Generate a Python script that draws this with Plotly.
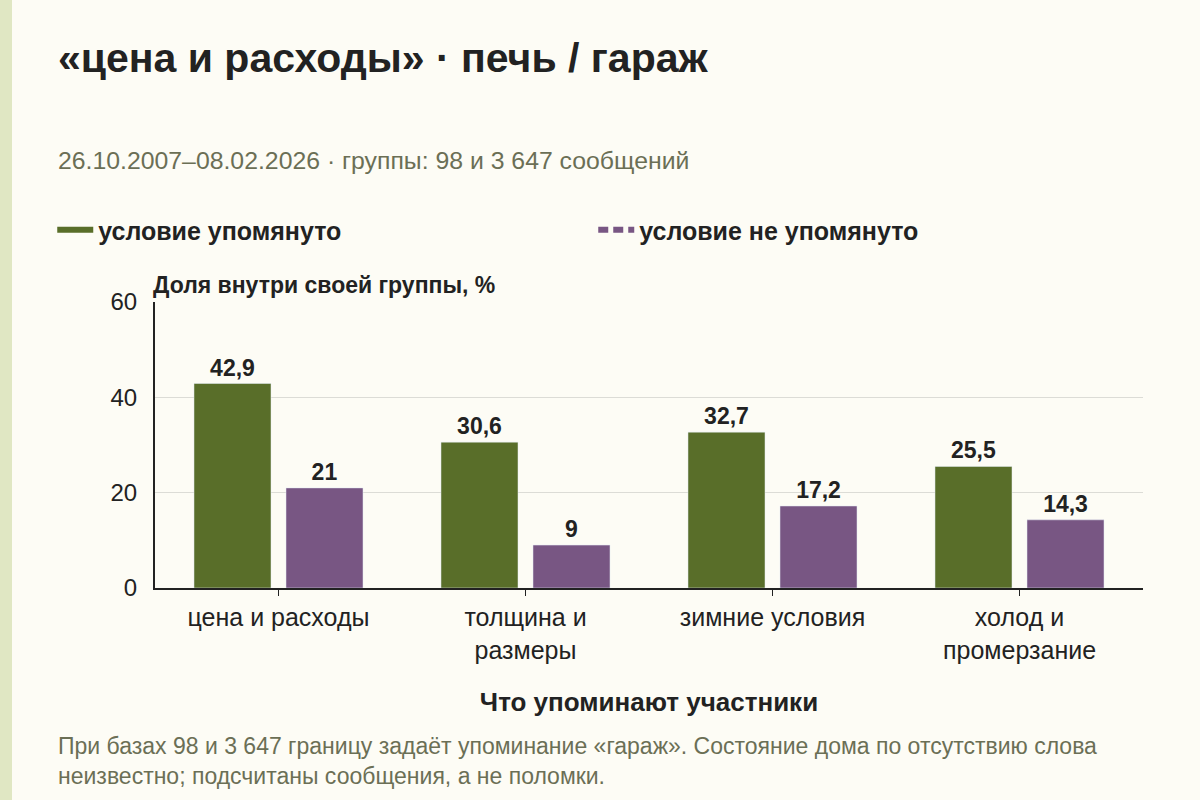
import plotly.graph_objects as go

# данные
categories = ["цена и расходы", "толщина и<br>размеры", "зимние условия", "холод и<br>промерзание"]
mentioned = [42.9, 30.6, 32.7, 25.5]
not_mentioned = [21, 9, 17.2, 14.3]
mentioned_labels = ["42,9", "30,6", "32,7", "25,5"]
not_mentioned_labels = ["21", "9", "17,2", "14,3"]
y_ticks = [0, 20, 40, 60]

GREEN = "#596e29"
PURPLE = "#785683"
BG = "#fdfcf5"
MUTED = "#6b6f55"
FONT = "Liberation Sans, Arial, sans-serif"

fig = go.Figure()

fig.add_trace(go.Bar(
    x=categories, y=mentioned, name="условие упомянуто",
    marker=dict(color=GREEN), text=mentioned_labels, textposition="outside",
    textfont=dict(size=23, color="#222", family=FONT, weight="bold"),
    cliponaxis=False, showlegend=False,
))
fig.add_trace(go.Bar(
    x=categories, y=not_mentioned, name="условие не упомянуто",
    marker=dict(color=PURPLE), text=not_mentioned_labels, textposition="outside",
    textfont=dict(size=23, color="#222", family=FONT, weight="bold"),
    cliponaxis=False, showlegend=False,
))

# легенда линиями, как в оригинале
fig.add_trace(go.Scatter(
    x=[None], y=[None], mode="lines", name="условие упомянуто",
    line=dict(color=GREEN, width=6),
))
fig.add_trace(go.Scatter(
    x=[None], y=[None], mode="lines", name="условие не упомянуто",
    line=dict(color=PURPLE, width=6, dash="10px,5px"),
))

fig.update_layout(
    width=1200, height=800,
    paper_bgcolor=BG, plot_bgcolor=BG,
    font=dict(family=FONT, color="#222"),
    margin=dict(l=155, r=57, t=302, b=212),
    barmode="group", bargap=0.255, bargroupgap=0.163,
    title=dict(
        text="<b>«цена и расходы» · печь / гараж</b>",
        x=58 / 1200, xanchor="left", y=1 - 58 / 800, yanchor="middle",
        font=dict(size=41, color="#222", family=FONT),
    ),
    legend=dict(
        orientation="h", x=-0.104, y=1 + 72 / 286,
        xanchor="left", yanchor="middle",
        font=dict(size=25, color="#222", family=FONT, weight="bold"),
        entrywidth=490, itemwidth=36, bgcolor="rgba(0,0,0,0)",
    ),
    showlegend=True,
    xaxis=dict(
        showline=True, linecolor="#222", linewidth=2,
        ticks="outside", ticklen=6, tickcolor="#222",
        tickfont=dict(size=25, color="#222"),
        title=dict(text="<b>Что упоминают участники</b>", font=dict(size=26, color="#222"), standoff=30),
    ),
    yaxis=dict(
        range=[0, 60], tickvals=y_ticks, showline=True, linecolor="#222", linewidth=2,
        showgrid=True, gridcolor="#dcdcd6", gridwidth=1,
        tickfont=dict(size=24, color="#222"), ticks="", ticklabelstandoff=11,
        zeroline=False,
    ),
    annotations=[
        dict(text="26.10.2007–08.02.2026 · группы: 98 и 3 647 сообщений",
             xref="paper", yref="paper", x=-99 / 988, y=1 + (302 - 160) / 286,
             xanchor="left", yanchor="middle", showarrow=False,
             font=dict(size=24.8, color=MUTED)),
        dict(text="<b>Доля внутри своей группы, %</b>",
             xref="paper", yref="paper", x=-4 / 988, y=1 + 17 / 286,
             xanchor="left", yanchor="middle", showarrow=False,
             font=dict(size=23, color="#222")),
        dict(text="При базах 98 и 3 647 границу задаёт упоминание «гараж». Состояние дома по отсутствию слова<br>неизвестно; подсчитаны сообщения, а не поломки.",
             xref="paper", yref="paper", x=-99 / 988, y=-(761 - 588) / 286,
             xanchor="left", yanchor="middle", showarrow=False, align="left",
             font=dict(size=23, color=MUTED)),
    ],
    shapes=[
        dict(type="rect", xref="paper", yref="paper",
             x0=-155 / 988, x1=-143 / 988, y0=-212 / 286, y1=1 + 302 / 286,
             fillcolor="#e0e7c3", line=dict(width=0), layer="below"),
    ],
)

fig.write_html("out.html", config={"displayModeBar": False},
               post_script="document.body.style.margin='0';")
